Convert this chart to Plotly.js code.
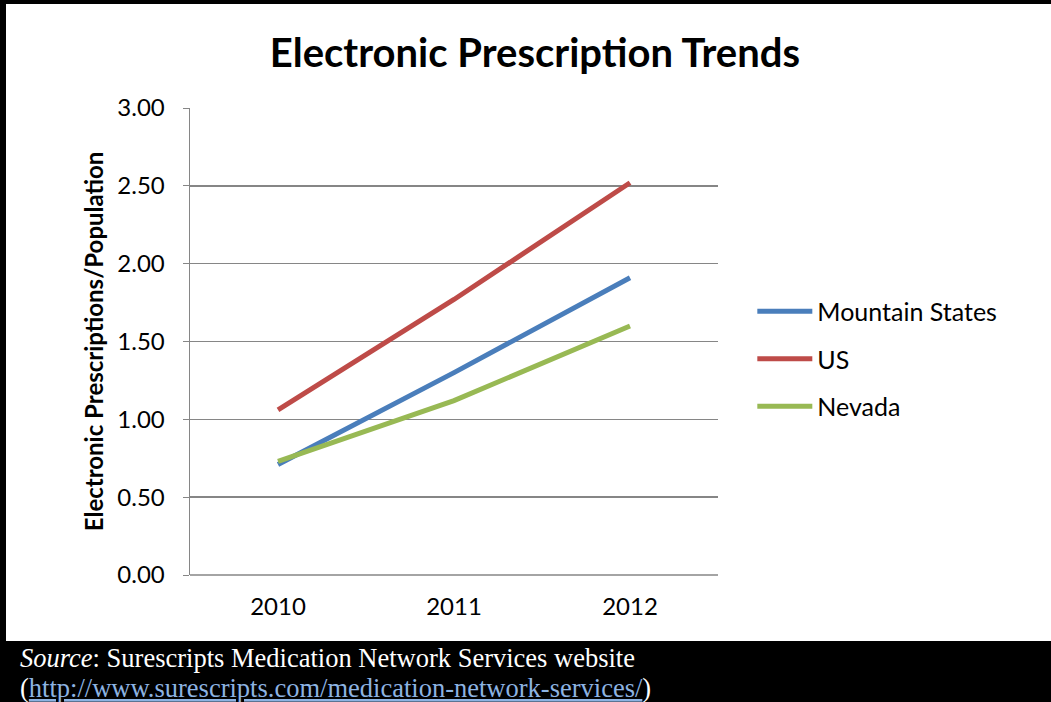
<!DOCTYPE html>
<html>
<head>
<meta charset="utf-8">
<script src="https://cdn.plot.ly/plotly-3.0.1.min.js"></script>
<style>html,body{margin:0;padding:0;background:#fff;}#chart{width:1051px;height:702px;}</style>
</head>
<body>
<div id="chart"></div>
<script>
const years = ["2010", "2011", "2012"];
const mountainStates = [0.71, 1.30, 1.91];
const us = [1.06, 1.77, 2.52];
const nevada = [0.73, 1.12, 1.60];
const yTicks = [0, 0.5, 1, 1.5, 2, 2.5, 3];
const yTickLabels = ["0.00", "0.50", "1.00", "1.50", "2.00", "2.50", "3.00"];

const font = "Lato, Carlito, Calibri, sans-serif";
function tr(name, y, color) {
  return {x: years, y: y, name: name, legendgroup: name, type: "scatter", mode: "lines",
    line: {color: color, width: 5}};
}
const data = [
  tr("Mountain States", mountainStates, "#4a7ebb"),
  tr("US", us, "#be4b48"),
  tr("Nevada", nevada, "#98b954")
];
const layout = {
  width: 1051, height: 702,
  margin: {l: 190, r: 333, t: 108, b: 127},
  paper_bgcolor: "#fff", plot_bgcolor: "#fff",
  font: {family: font, color: "#000", size: 24},
  title: {text: "<b>Electronic Prescription Trends</b>", font: {family: font, size: 40, color: "#000"},
    x: 0.509, xanchor: "center", y: 0.925, yanchor: "middle"},
  xaxis: {type: "category", range: [-0.5, 2.5], showgrid: false, showline: false, zeroline: false,
    ticks: "", tickfont: {size: 24, family: font}, ticklabelstandoff: 15, fixedrange: true},
  yaxis: {range: [0, 3], tickvals: yTicks, ticktext: yTickLabels, showgrid: true, gridcolor: "#868686", gridwidth: 1.4,
    showline: true, linecolor: "#868686", linewidth: 1.4, ticks: "outside", ticklen: 6, tickcolor: "#868686",
    zeroline: false, tickfont: {size: 24, family: font}, ticklabelstandoff: 13,
    title: {text: "<b>Electronic Prescriptions/Population</b>", font: {size: 24, family: font}, standoff: 7}},
  showlegend: true,
  legend: {x: 1.065, xanchor: "left", y: 0.4625, yanchor: "middle", font: {size: 25, family: font},
    tracegroupgap: 12, itemwidth: 55, bgcolor: "rgba(0,0,0,0)"},
  shapes: [
    {type: "rect", xref: "paper", yref: "paper", x0: 0, x1: 1, y0: 0, y1: 0, line: {color: "#868686", width: 1.4}, layer: "below"},
    {type: "rect", xref: "paper", yref: "paper", x0: -190/528, x1: 1 + 333/528, y0: 1 + 104/467, y1: 1 + 108/467, fillcolor: "#000", line: {width: 0}},
    {type: "rect", xref: "paper", yref: "paper", x0: -190/528, x1: -184/528, y0: -127/467, y1: 1 + 108/467, fillcolor: "#000", line: {width: 0}},
    {type: "rect", xref: "paper", yref: "paper", x0: -190/528, x1: 1 + 333/528, y0: -127/467, y1: -66/467, fillcolor: "#000", line: {width: 0}}
  ],
  annotations: [
    {xref: "paper", yref: "paper", x: -172/528, y: -100/467, xanchor: "left", yanchor: "bottom", showarrow: false,
      text: "<i>Source</i>: Surescripts Medication Network Services website", font: {family: "'Liberation Serif', 'Times New Roman', serif", size: 26.5, color: "#fff"}},
    {xref: "paper", yref: "paper", x: -172/528, y: -130/467, xanchor: "left", yanchor: "bottom", showarrow: false,
      text: "(<span style=\"color:#8db3e2\"><u>http://www.surescripts.com/medication-network-services/</u></span>)", font: {family: "'Liberation Serif', 'Times New Roman', serif", size: 26.5, color: "#fff"}}
  ]
};
Plotly.newPlot("chart", data, layout, {displayModeBar: false, staticPlot: true});
</script>
</body>
</html>
